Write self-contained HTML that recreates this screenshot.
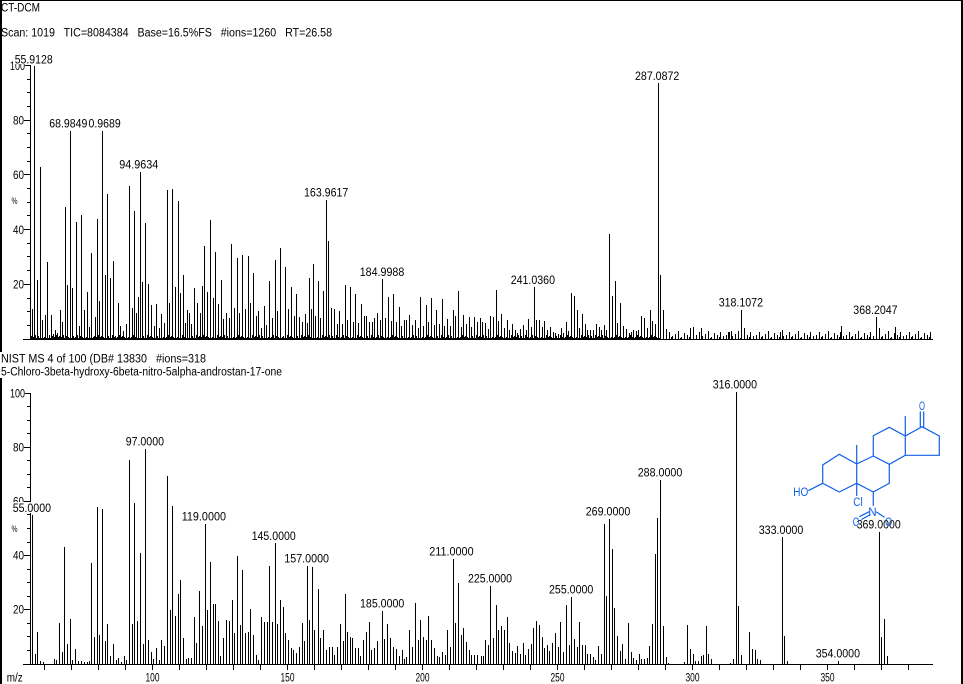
<!DOCTYPE html>
<html><head><meta charset="utf-8"><style>
html,body{margin:0;padding:0;background:#fff;}
svg{display:block;}
text{font-family:"Liberation Sans",Arial,sans-serif;font-size:11.5px;fill:#000;}
.m text{fill:#1060e8;}
</style></head><body>
<svg width="963" height="684" viewBox="0 0 963 684" xmlns="http://www.w3.org/2000/svg">
<defs>
<pattern id="n1" x="31" y="334" width="7" height="5" patternUnits="userSpaceOnUse">
<rect x="0" y="2" width="1" height="3" fill="#000"/><rect x="1" y="4" width="1" height="1" fill="#000"/><rect x="2" y="3" width="1" height="2" fill="#000"/><rect x="3" y="4" width="1" height="1" fill="#000"/><rect x="4" y="1" width="1" height="4" fill="#000"/><rect x="5" y="4" width="1" height="1" fill="#000"/><rect x="6" y="3" width="1" height="2" fill="#000"/>
</pattern>
<pattern id="n2" x="666" y="329" width="30" height="10" patternUnits="userSpaceOnUse">
<rect x="0" y="6" width="1" height="4" fill="#000"/><rect x="3" y="3" width="1" height="7" fill="#000"/><rect x="5" y="8" width="1" height="2" fill="#000"/><rect x="6" y="7" width="1" height="3" fill="#000"/><rect x="9" y="5" width="1" height="5" fill="#000"/><rect x="12" y="2" width="1" height="8" fill="#000"/><rect x="14" y="9" width="1" height="1" fill="#000"/><rect x="15" y="8" width="1" height="2" fill="#000"/><rect x="18" y="4" width="1" height="6" fill="#000"/><rect x="21" y="6" width="1" height="4" fill="#000"/><rect x="23" y="8" width="1" height="2" fill="#000"/><rect x="24" y="3" width="1" height="7" fill="#000"/><rect x="27" y="7" width="1" height="3" fill="#000"/>
</pattern>
</defs>
<rect width="963" height="684" fill="#fff"/>
<!-- window borders -->
<rect x="0" y="0" width="963" height="1" fill="#000"/>
<rect x="0" y="0" width="2" height="684" fill="#000"/>
<rect x="961" y="0" width="2" height="684" fill="#000"/>

<!-- header -->
<text x="1" y="11.7" textLength="39" lengthAdjust="spacingAndGlyphs">CT-DCM</text>
<text x="1" y="36.7" textLength="331" lengthAdjust="spacingAndGlyphs" xml:space="preserve" style="white-space:pre">Scan: 1019   TIC=8084384   Base=16.5%FS   #ions=1260   RT=26.58</text>

<!-- TOP CHART -->
<g stroke="#000" stroke-width="1" shape-rendering="crispEdges" fill="none">
<path d="M30.5 65V339.5M23 339.5H933"/>
<path d="M25 65.5H31M24 120.5H31M24 174.5H31M24 229.5H31M24 284.5H31M27 325.5H31M27 311.5H31M27 298.5H31M27 270.5H31M27 256.5H31M27 243.5H31M27 215.5H31M27 202.5H31M27 188.5H31M27 161.5H31M27 147.5H31M27 133.5H31M27 106.5H31M27 92.5H31M27 79.5H31"/>
</g>
<rect x="31" y="334" width="630" height="5" fill="url(#n1)"/>
<rect x="666" y="329" width="266" height="10" fill="url(#n2)"/>
<path stroke="#000" stroke-width="1" shape-rendering="crispEdges" fill="none" d="M32.5 339V309M34.5 339V66M37.5 339V280M40.5 339V167M42.5 339V320M45.5 339V315M47.5 339V262M51.5 339V315M53.5 339V334M55.5 339V330M57.5 339V333M60.5 339V310M62.5 339V322M65.5 339V207M67.5 339V285M70.5 339V131M72.5 339V288M76.5 339V222M79.5 339V326M81.5 339V215M84.5 339V310M87.5 339V292M89.5 339V327M91.5 339V253M95.5 339V317M97.5 339V219M99.5 339V301M102.5 339V131M105.5 339V275M107.5 339V194M110.5 339V278M113.5 339V261M118.5 339V303M120.5 339V326M123.5 339V331M126.5 339V324M129.5 339V186M132.5 339V308M134.5 339V211M136.5 339V313M138.5 339V297M140.5 339V172M142.5 339V282M145.5 339V223M148.5 339V284M151.5 339V305M154.5 339V326M156.5 339V304M159.5 339V328M161.5 339V314M164.5 339V323M167.5 339V190M169.5 339V303M172.5 339V189M175.5 339V287M178.5 339V201M180.5 339V293M183.5 339V275M185.5 339V323M187.5 339V310M189.5 339V313M191.5 339V324M194.5 339V288M197.5 339V303M200.5 339V313M202.5 339V286M204.5 339V246M207.5 339V292M210.5 339V220M213.5 339V298M215.5 339V252M218.5 339V304M221.5 339V280M223.5 339V319M226.5 339V313M229.5 339V318M231.5 339V244M234.5 339V308M237.5 339V258M239.5 339V313M242.5 339V255M245.5 339V309M248.5 339V256M250.5 339V303M253.5 339V273M256.5 339V316M258.5 339V311M261.5 339V328M264.5 339V306M266.5 339V325M269.5 339V281M272.5 339V318M275.5 339V260M277.5 339V311M280.5 339V248M285.5 339V267M288.5 339V309M291.5 339V287M294.5 339V316M296.5 339V294M299.5 339V317M302.5 339V322M305.5 339V314M307.5 339V323M309.5 339V278M311.5 339V309M313.5 339V264M315.5 339V316M318.5 339V281M320.5 339V318M323.5 339V291M326.5 339V200M328.5 339V241M331.5 339V308M334.5 339V309M337.5 339V324M339.5 339V311M342.5 339V324M345.5 339V285M347.5 339V320M350.5 339V287M353.5 339V322M355.5 339V294M358.5 339V323M361.5 339V304M364.5 339V316M366.5 339V316M369.5 339V322M372.5 339V322M374.5 339V318M377.5 339V313M380.5 339V320M382.5 339V279M385.5 339V318M388.5 339V297M391.5 339V321M393.5 339V294M396.5 339V322M399.5 339V307M401.5 339V326M404.5 339V320M406.5 339V320M409.5 339V315M412.5 339V325M415.5 339V320M418.5 339V328M420.5 339V297M423.5 339V326M426.5 339V305M428.5 339V322M431.5 339V298M434.5 339V325M436.5 339V310M439.5 339V324M442.5 339V299M444.5 339V326M447.5 339V319M450.5 339V326M453.5 339V310M455.5 339V316M458.5 339V291M461.5 339V327M463.5 339V315M466.5 339V324M469.5 339V317M471.5 339V327M474.5 339V317M477.5 339V322M480.5 339V318M482.5 339V322M485.5 339V323M488.5 339V329M490.5 339V316M493.5 339V317M496.5 339V290M498.5 339V321M501.5 339V314M504.5 339V328M507.5 339V320M509.5 339V330M512.5 339V324M515.5 339V330M517.5 339V333M520.5 339V329M523.5 339V325M526.5 339V330M528.5 339V319M531.5 339V327M534.5 339V287M536.5 339V320M539.5 339V320M542.5 339V327M544.5 339V321M547.5 339V330M550.5 339V327M553.5 339V332M555.5 339V333M558.5 339V334M561.5 339V328M563.5 339V333M566.5 339V322M568.5 339V331M571.5 339V293M574.5 339V296M577.5 339V310M579.5 339V328M582.5 339V314M585.5 339V324M587.5 339V330M590.5 339V330M593.5 339V330M596.5 339V324M599.5 339V327M601.5 339V330M604.5 339V325M606.5 339V330M609.5 339V234M612.5 339V296M615.5 339V281M617.5 339V323M620.5 339V303M623.5 339V326M626.5 339V329M629.5 339V333M631.5 339V332M633.5 339V330M636.5 339V331M638.5 339V330M641.5 339V316M644.5 339V318M647.5 339V328M650.5 339V310M652.5 339V321M655.5 339V324M658.5 339V83M660.5 339V275M663.5 339V310M666.5 339V329M690.5 339V328M693.5 339V327M701.5 339V328M728.5 339V332M731.5 339V331M741.5 339V310M744.5 339V328M782.5 339V330M841.5 339V326M876.5 339V317M879.5 339V328M895.5 339V327"/>

<!-- top y labels -->
<g text-anchor="end">
<text x="25" y="70" textLength="15" lengthAdjust="spacingAndGlyphs">100</text>
<text x="24" y="124.5" textLength="11" lengthAdjust="spacingAndGlyphs">80</text>
<text x="24" y="179" textLength="11" lengthAdjust="spacingAndGlyphs">60</text>
<text x="24" y="234" textLength="11" lengthAdjust="spacingAndGlyphs">40</text>
<text x="24" y="288.7" textLength="11" lengthAdjust="spacingAndGlyphs">20</text>
</g>
<text x="11.5" y="204" style="font-size:9px" textLength="6" lengthAdjust="spacingAndGlyphs">%</text>

<!-- top peak labels -->
<rect x="14" y="54" width="40" height="10" fill="#fff"/>
<text x="14.7" y="63.5" textLength="38" lengthAdjust="spacingAndGlyphs">55.9128</text>
<text x="82.7" y="127.7" textLength="38" lengthAdjust="spacingAndGlyphs">80.9689</text>
<rect x="49" y="118" width="39" height="10" fill="#fff"/>
<text x="49.3" y="127.7" textLength="38" lengthAdjust="spacingAndGlyphs">68.9849</text>
<text x="119.3" y="168.3" textLength="39" lengthAdjust="spacingAndGlyphs">94.9634</text>
<text x="304" y="196.7" textLength="44.3" lengthAdjust="spacingAndGlyphs">163.9617</text>
<text x="359.7" y="276" textLength="44.6" lengthAdjust="spacingAndGlyphs">184.9988</text>
<text x="510.7" y="284" textLength="44.3" lengthAdjust="spacingAndGlyphs">241.0360</text>
<text x="635" y="80" textLength="44.3" lengthAdjust="spacingAndGlyphs">287.0872</text>
<text x="718.7" y="306.7" textLength="44.3" lengthAdjust="spacingAndGlyphs">318.1072</text>
<text x="853.3" y="314" textLength="44.3" lengthAdjust="spacingAndGlyphs">368.2047</text>

<!-- BOTTOM header -->
<rect x="0" y="352" width="208" height="26" fill="#fff"/>
<text x="1" y="362.7" textLength="205" lengthAdjust="spacingAndGlyphs" xml:space="preserve" style="white-space:pre">NIST MS 4 of 100 (DB# 13830   #ions=318</text>
<text x="1" y="375.7" textLength="281" lengthAdjust="spacingAndGlyphs">5-Chloro-3beta-hydroxy-6beta-nitro-5alpha-androstan-17-one</text>

<!-- BOTTOM CHART -->
<g stroke="#000" stroke-width="1" shape-rendering="crispEdges" fill="none">
<path d="M30.5 393V664.5M23 664.5H933"/>
<path d="M25 393.5H31M24 447.5H31M24 501.5H31M24 555.5H31M24 609.5H31M27 650.5H31M27 636.5H31M27 623.5H31M27 596.5H31M27 582.5H31M27 569.5H31M27 542.5H31M27 528.5H31M27 514.5H31M27 487.5H31M27 474.5H31M27 460.5H31M27 433.5H31M27 420.5H31M27 406.5H31"/>
<path d="M44.5 664V670M71.5 664V670M98.5 664V670M125.5 664V670M152.5 664V670M179.5 664V670M206.5 664V670M233.5 664V670M260.5 664V670M287.5 664V670M314.5 664V670M341.5 664V670M368.5 664V670M395.5 664V670M422.5 664V670M449.5 664V670M476.5 664V670M503.5 664V670M530.5 664V670M557.5 664V670M584.5 664V670M611.5 664V670M638.5 664V670M665.5 664V670M692.5 664V670M719.5 664V670M746.5 664V670M773.5 664V670M800.5 664V670M827.5 664V670M854.5 664V670M881.5 664V670M908.5 664V670"/>
<path d="M32.5 664V515M35.5 664V654M37.5 664V632M40.5 664V661M43.5 664V662M54.5 664V659M56.5 664V660M59.5 664V623M62.5 664V652M64.5 664V547M67.5 664V644M70.5 664V619M72.5 664V660M75.5 664V649M78.5 664V661M81.5 664V661M84.5 664V662M87.5 664V662M89.5 664V661M91.5 664V563M94.5 664V637M97.5 664V507M99.5 664V635M102.5 664V509M105.5 664V641M107.5 664V624M110.5 664V656M113.5 664V644M116.5 664V660M118.5 664V658M121.5 664V662M124.5 664V656M126.5 664V660M129.5 664V460M132.5 664V624M134.5 664V503M137.5 664V621M140.5 664V553M143.5 664V644M145.5 664V449M148.5 664V640M151.5 664V652M153.5 664V659M156.5 664V648M159.5 664V660M161.5 664V640M164.5 664V646M167.5 664V476M170.5 664V610M172.5 664V506M175.5 664V616M178.5 664V594M180.5 664V580M183.5 664V638M186.5 664V659M188.5 664V658M191.5 664V658M194.5 664V617M196.5 664V643M199.5 664V591M202.5 664V626M205.5 664V524M207.5 664V610M210.5 664V562M213.5 664V604M215.5 664V604M218.5 664V621M220.5 664V656M223.5 664V638M226.5 664V620M229.5 664V621M232.5 664V600M234.5 664V633M237.5 664V556M240.5 664V625M242.5 664V570M245.5 664V633M248.5 664V632M250.5 664V609M253.5 664V635M256.5 664V655M258.5 664V660M261.5 664V617M264.5 664V622M267.5 664V622M269.5 664V566M272.5 664V622M275.5 664V543M277.5 664V624M280.5 664V600M283.5 664V607M285.5 664V633M288.5 664V640M291.5 664V648M293.5 664V650M296.5 664V653M299.5 664V647M302.5 664V623M304.5 664V641M307.5 664V566M309.5 664V620M312.5 664V567M314.5 664V630M318.5 664V589M320.5 664V638M323.5 664V630M326.5 664V650M329.5 664V647M332.5 664V647M334.5 664V655M337.5 664V647M340.5 664V624M343.5 664V641M345.5 664V594M347.5 664V632M350.5 664V637M352.5 664V638M355.5 664V648M358.5 664V648M360.5 664V656M363.5 664V640M366.5 664V632M369.5 664V622M371.5 664V650M374.5 664V648M377.5 664V641M382.5 664V611M384.5 664V639M387.5 664V624M390.5 664V638M393.5 664V647M396.5 664V649M399.5 664V656M402.5 664V650M404.5 664V659M406.5 664V657M409.5 664V630M412.5 664V647M415.5 664V603M418.5 664V640M420.5 664V620M423.5 664V637M426.5 664V640M428.5 664V616M431.5 664V640M434.5 664V648M437.5 664V656M439.5 664V657M442.5 664V652M445.5 664V655M447.5 664V630M450.5 664V647M453.5 664V559M455.5 664V623M458.5 664V583M461.5 664V635M463.5 664V628M466.5 664V642M469.5 664V650M471.5 664V655M474.5 664V655M477.5 664V655M481.5 664V656M483.5 664V656M485.5 664V640M488.5 664V645M490.5 664V586M493.5 664V638M496.5 664V605M498.5 664V630M501.5 664V626M504.5 664V630M507.5 664V617M509.5 664V643M512.5 664V651M515.5 664V653M517.5 664V646M520.5 664V654M523.5 664V643M525.5 664V655M528.5 664V649M531.5 664V644M533.5 664V628M536.5 664V621M539.5 664V625M542.5 664V637M544.5 664V648M547.5 664V645M549.5 664V651M552.5 664V643M555.5 664V633M558.5 664V647M560.5 664V622M563.5 664V652M566.5 664V605M569.5 664V645M571.5 664V597M574.5 664V639M577.5 664V647M579.5 664V622M582.5 664V645M585.5 664V645M587.5 664V654M590.5 664V654M593.5 664V657M595.5 664V660M598.5 664V646M601.5 664V654M604.5 664V524M606.5 664V596M609.5 664V519M612.5 664V549M614.5 664V608M617.5 664V636M620.5 664V651M622.5 664V644M625.5 664V659M628.5 664V623M631.5 664V652M633.5 664V658M636.5 664V660M639.5 664V654M641.5 664V659M644.5 664V659M647.5 664V658M649.5 664V646M652.5 664V624M655.5 664V554M657.5 664V518M660.5 664V480M663.5 664V626M666.5 664V657M668.5 664V663M684.5 664V662M687.5 664V625M690.5 664V649M693.5 664V654M695.5 664V661M698.5 664V661M701.5 664V656M703.5 664V655M706.5 664V626M708.5 664V654M711.5 664V659M730.5 664V663M733.5 664V659M736.5 664V392M738.5 664V606M741.5 664V655M749.5 664V632M752.5 664V649M755.5 664V650M757.5 664V659M760.5 664V660M782.5 664V537M784.5 664V636M787.5 664V661M838.5 664V661M879.5 664V532M881.5 664V637M884.5 664V619M887.5 664V656"/>
</g>

<!-- bottom y labels -->
<g text-anchor="end">
<text x="25" y="397.7" textLength="15" lengthAdjust="spacingAndGlyphs">100</text>
<text x="24" y="451.7" textLength="11" lengthAdjust="spacingAndGlyphs">80</text>
<text x="24" y="505.7" textLength="11" lengthAdjust="spacingAndGlyphs">60</text>
<text x="24" y="559.7" textLength="11" lengthAdjust="spacingAndGlyphs">40</text>
<text x="24" y="613.7" textLength="11" lengthAdjust="spacingAndGlyphs">20</text>
</g>
<text x="11.5" y="532" style="font-size:9px" textLength="6" lengthAdjust="spacingAndGlyphs">%</text>

<!-- x labels -->
<g text-anchor="middle">
<text x="152.5" y="681.5" textLength="14" lengthAdjust="spacingAndGlyphs">100</text>
<text x="287.5" y="681.5" textLength="14" lengthAdjust="spacingAndGlyphs">150</text>
<text x="422.5" y="681.5" textLength="14" lengthAdjust="spacingAndGlyphs">200</text>
<text x="557.5" y="681.5" textLength="14" lengthAdjust="spacingAndGlyphs">250</text>
<text x="692.5" y="681.5" textLength="14" lengthAdjust="spacingAndGlyphs">300</text>
<text x="827.5" y="681.5" textLength="14" lengthAdjust="spacingAndGlyphs">350</text>
</g>
<text x="6.7" y="681.5" textLength="16" lengthAdjust="spacingAndGlyphs">m/z</text>

<!-- bottom peak labels -->
<rect x="12" y="502" width="40" height="11" fill="#fff"/>
<text x="12.7" y="512" textLength="38.3" lengthAdjust="spacingAndGlyphs">55.0000</text>
<text x="125.7" y="445.7" textLength="38.3" lengthAdjust="spacingAndGlyphs">97.0000</text>
<text x="181.7" y="520.7" textLength="44.3" lengthAdjust="spacingAndGlyphs">119.0000</text>
<text x="251.7" y="540" textLength="44" lengthAdjust="spacingAndGlyphs">145.0000</text>
<text x="284.3" y="562.7" textLength="44.7" lengthAdjust="spacingAndGlyphs">157.0000</text>
<text x="360" y="607.3" textLength="44.3" lengthAdjust="spacingAndGlyphs">185.0000</text>
<text x="429.3" y="555.7" textLength="44.3" lengthAdjust="spacingAndGlyphs">211.0000</text>
<text x="468" y="582.7" textLength="44" lengthAdjust="spacingAndGlyphs">225.0000</text>
<text x="549" y="593.3" textLength="44.3" lengthAdjust="spacingAndGlyphs">255.0000</text>
<text x="585.7" y="515.7" textLength="44.6" lengthAdjust="spacingAndGlyphs">269.0000</text>
<text x="637.7" y="476.7" textLength="44.6" lengthAdjust="spacingAndGlyphs">288.0000</text>
<text x="712.7" y="388.7" textLength="44.3" lengthAdjust="spacingAndGlyphs">316.0000</text>
<text x="758.7" y="534" textLength="44.6" lengthAdjust="spacingAndGlyphs">333.0000</text>
<text x="815.7" y="657.3" textLength="44.3" lengthAdjust="spacingAndGlyphs">354.0000</text>
<text x="856.7" y="528.7" textLength="44" lengthAdjust="spacingAndGlyphs">369.0000</text>

<!-- molecule -->
<g class="m">
<path fill="none" stroke="#1060e8" stroke-width="1.2" d="M839.3 454.3L822.7 465L822.7 483.3L839.3 492L856.7 483.3L856.7 464Z M856.7 464L873.3 456L889.3 464.3L889.3 483.3L873.3 492L856.7 483.3 M873.3 456L873.3 435.7L889.3 427.3L905.3 436L905.3 455.3L889.3 464.3 M905.3 436L922 426.7L939.3 436L939.3 455.3L905.3 455.3 M905.3 436V416 M856.7 464V445 M920.3 427V411.5 M923.7 427.5V411.5 M808.3 490.7L822.7 483.3 M856.7 483.3V496 M873.3 492V506 M869.3 511.7L859.3 516.7 M870.5 514.5L861.5 519.5 M876 511.7L884.5 517.3"/>
<text x="919" y="410" textLength="6" lengthAdjust="spacingAndGlyphs">O</text>
<text x="793.3" y="496" textLength="15" lengthAdjust="spacingAndGlyphs">HO</text>
<text x="853.3" y="506" textLength="9.4" lengthAdjust="spacingAndGlyphs">Cl</text>
<text x="868.3" y="516" textLength="8.4" lengthAdjust="spacingAndGlyphs">N</text>
<text x="852.7" y="526" textLength="6.6" lengthAdjust="spacingAndGlyphs">O</text>
<text x="885" y="526" textLength="7.3" lengthAdjust="spacingAndGlyphs">O</text>
</g>
</svg>
</body></html>
